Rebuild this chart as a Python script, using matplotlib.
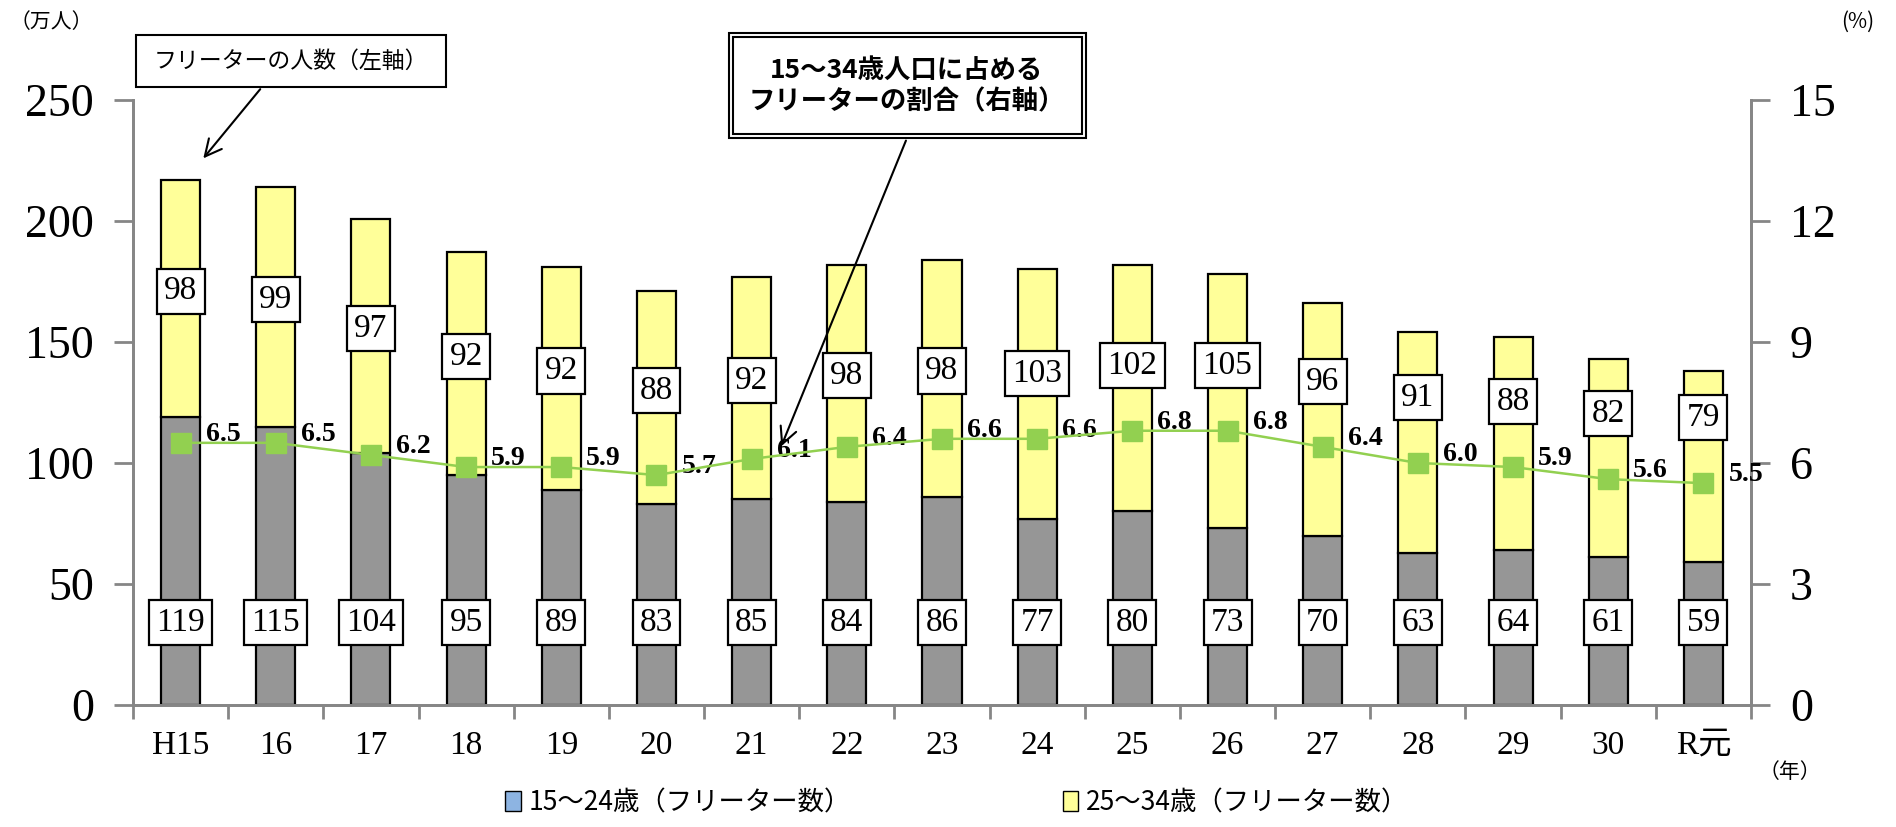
import numpy as np
import matplotlib.pyplot as plt
from matplotlib.patches import Rectangle, Patch

plt.rcParams['font.family'] = ['Liberation Serif', 'Noto Sans CJK JP']

# データ
years = ['H15', '16', '17', '18', '19', '20', '21', '22', '23', '24',
         '25', '26', '27', '28', '29', '30', 'R元']
age15_24 = [119, 115, 104, 95, 89, 83, 85, 84, 86, 77, 80, 73, 70, 63, 64, 61, 59]
age25_34 = [98, 99, 97, 92, 92, 88, 92, 98, 98, 103, 102, 105, 96, 91, 88, 82, 79]
ratio = [6.5, 6.5, 6.2, 5.9, 5.9, 5.7, 6.1, 6.4, 6.6, 6.6, 6.8, 6.8, 6.4, 6.0, 5.9, 5.6, 5.5]

W, H = 1896, 827
def fx(x):
    return x / W
def fy(y):
    return 1 - y / H

fig = plt.figure(figsize=(W / 100, H / 100), dpi=100)
ax = fig.add_axes([fx(133), fy(705), fx(1751) - fx(133), fy(100) - fy(705)])
ax2 = ax.twinx()

x = np.arange(len(years))
a = np.array(age15_24)
b = np.array(age25_34)
r = np.array(ratio)

ax.bar(x, a, width=0.41, color='#969696', edgecolor='black', linewidth=1.6, zorder=2)
ax.bar(x, b, width=0.41, bottom=a, color='#FFFF99', edgecolor='black', linewidth=1.6, zorder=2)

box = dict(boxstyle='square,pad=0.22', fc='white', ec='black', lw=1.6)
for i in range(len(x)):
    ax.text(x[i], 34, str(a[i]), ha='center', va='center', fontsize=24, bbox=box, zorder=4)
    line_left = r[i] * 250 / 15
    ylab = max(a[i] + b[i] / 2 + 3, line_left + 27)
    ax.text(x[i], ylab, str(b[i]), ha='center', va='center', fontsize=24, bbox=box, zorder=4)

ax2.plot(x, r, color='#92D050', lw=1.8, marker='s', markersize=14, zorder=5)
for i in range(len(x)):
    ax2.annotate('%.1f' % r[i], (x[i], r[i]), xytext=(18, 6), textcoords='offset points',
                 ha='left', va='center', fontsize=20, fontweight='bold')

ax.set_xlim(-0.5, len(years) - 0.5)
ax.set_ylim(0, 250)
ax2.set_ylim(0, 15)
ax.set_yticks([0, 50, 100, 150, 200, 250])
ax2.set_yticks([0, 3, 6, 9, 12, 15])
ax.set_xticks(x)
ax.set_xticklabels(years, fontsize=24)
ax.set_xticks(np.arange(-0.5, len(years), 1), minor=True)
ax.tick_params(axis='x', which='major', length=0, pad=18)
ax.tick_params(axis='x', which='minor', length=10, color='#868686', width=2)
ax.tick_params(axis='y', labelsize=33, length=14, color='#868686', width=2, pad=14)
ax2.tick_params(axis='y', labelsize=33, length=14, color='#868686', width=2, pad=14)

for a_ in (ax, ax2):
    a_.spines['top'].set_visible(False)
    for s in ('left', 'right', 'bottom'):
        a_.spines[s].set_color('#868686')
        a_.spines[s].set_linewidth(2)
ax.set_zorder(1)
ax2.set_zorder(2)
ax2.patch.set_visible(False)

cjk = ['Noto Sans CJK JP', 'DejaVu Sans']
fig.text(fx(10), fy(22), '（万人）', fontsize=15, family=cjk, ha='left', va='center')
fig.text(fx(1858), fy(22), '(%)', fontsize=15, family=cjk, ha='center', va='center')
fig.text(fx(1790), fy(772), '（年）', fontsize=15, family=cjk, ha='center', va='center')

# 吹き出し1
fig.add_artist(Rectangle((fx(136), fy(87)), fx(446) - fx(136), fy(35) - fy(87),
                         transform=fig.transFigure, fc='white', ec='black', lw=1.5, zorder=10))
fig.text(fx(291), fy(61), 'フリーターの人数（左軸）', fontsize=16.5, family=cjk,
         ha='center', va='center', zorder=11)
ax.annotate('', xy=(0.22, 225), xycoords='data', xytext=(fx(262), fy(87)),
            textcoords='figure fraction',
            arrowprops=dict(arrowstyle='->', color='black', lw=1.5, mutation_scale=30))

# 吹き出し2(二重枠)
fig.add_artist(Rectangle((fx(729), fy(138)), fx(1086) - fx(729), fy(33) - fy(138),
                         transform=fig.transFigure, fc='white', ec='black', lw=1.5, zorder=10))
fig.add_artist(Rectangle((fx(733), fy(134)), fx(1082) - fx(733), fy(37) - fy(134),
                         transform=fig.transFigure, fc='none', ec='black', lw=1.5, zorder=10))
fig.text(fx(907), fy(86), '15～34歳人口に占める\nフリーターの割合（右軸）', fontsize=19,
         family=cjk, fontweight='bold', ha='center', va='center', linespacing=1.2, zorder=11)
ax2.annotate('', xy=(6.3, 6.35), xycoords='data', xytext=(fx(907), fy(138)),
             textcoords='figure fraction',
             arrowprops=dict(arrowstyle='->', color='black', lw=1.5, mutation_scale=30))

# 凡例
handles = [Patch(fc='#8DB4E2', ec='black', lw=1), Patch(fc='#FFFF99', ec='black', lw=1)]
leg = fig.legend(handles, ['15～24歳（フリーター数）', '25～34歳（フリーター数）'],
                 loc='center', bbox_to_anchor=(fx(957), fy(803)), ncol=2, frameon=False,
                 prop={'family': cjk, 'size': 19}, handlelength=0.6, handleheight=0.8,
                 handletextpad=0.3, columnspacing=8)

fig.savefig('out.png', dpi=100)
